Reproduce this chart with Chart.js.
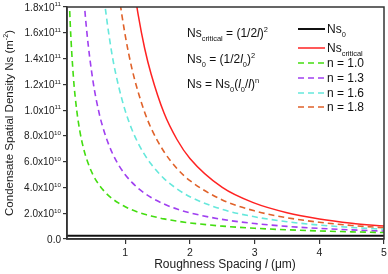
<!DOCTYPE html>
<html>
<head>
<meta charset="utf-8">
<script src="https://cdn.jsdelivr.net/npm/chart.js@4/dist/chart.umd.min.js"></script>
<style>
  body { margin: 0; background: #fff; }
  #wrap { width: 388px; height: 274px; }
</style>
</head>
<body>
<div id="wrap"><canvas id="chart" width="388" height="274"></canvas></div>
<script>
// roughness spacing l (um) and densities, in units of 1e9 m^-2
const spacing = [0.12, 0.15, 0.2, 0.25, 0.3, 0.35, 0.4, 0.5, 0.6, 0.65, 0.7, 0.8, 0.9, 1.0,
  1.1, 1.2, 1.3, 1.4, 1.6, 1.8, 2.0, 2.5, 3.0, 3.5, 4.0, 4.5, 5.0]
const ns0Spacing = [0.1, 5.0]
const ns0 = [2.5, 2.5]
const nsCritical = [null, null, null, null, null, null, null, null, null, null, null, null, null, null,
  207, 174, 148, 128, 97.7, 77.2, 62.5, 40, 27.8, 20.4, 15.6, 12.3, 10]
const n18 = [null, null, null, null, null, null, null, null, null, null, null,
  236, 191, 158, 133, 114, 98.4, 86.0, 67.7, 54.7, 45.3, 30.3, 21.8, 16.5, 13.0, 10.5, 8.7]
const n16 = [null, null, null, null, null, null, null, null,
  225, 198, 176, 142, 118, 99.5, 85.4, 74.3, 65.4, 58.1, 46.9, 38.9, 32.8, 23.0, 17.2, 13.4, 10.8, 8.97, 7.58]
const n13 = [null, null, null, null,
  239, 195, 164, 123, 96.9, 87.4, 79.4, 66.7, 57.2, 49.9, 44.1, 39.4, 35.5, 32.2, 27.1, 23.2, 20.3, 15.2, 12.0, 9.79, 8.23, 7.06, 6.16]
const n10 = [208, 167, 125, 100, 83.3, 71.4, 62.5, 50, 41.7, 38.5, 35.7, 31.3, 27.8, 25,
  22.7, 20.8, 19.2, 17.9, 15.6, 13.9, 12.5, 10, 8.33, 7.14, 6.25, 5.56, 5]
const xTicks = [1, 2, 3, 4, 5]
const yTicks = [0, 2e10, 4e10, 6e10, 8e10, 1e11, 1.2e11, 1.4e11, 1.6e11, 1.8e11]

const FONT = '"Liberation Sans", Arial, sans-serif'

function pts(xs, ys) {
  return xs.map((x, i) => ({ x: x, y: ys[i] == null ? null : ys[i] * 1e9 }))
}

function series(label, xs, ys, color, dashed, width) {
  return {
    label: label,
    data: pts(xs, ys),
    borderColor: color,
    borderWidth: width,
    borderDash: dashed ? [6, 4] : [],
    pointRadius: 0,
    cubicInterpolationMode: 'monotone',
    spanGaps: false
  }
}

// draws text made of segments, some sub/superscript or italic
function drawRich(ctx, segs, x, y, size, align) {
  let widths = segs.map(s => {
    let fs = (s.sub || s.sup) ? size * 0.62 : size
    ctx.font = (s.it ? 'italic ' : '') + fs + 'px ' + FONT
    return ctx.measureText(s.t).width
  })
  let total = widths.reduce((a, b) => a + b, 0)
  let cx = align == 'right' ? x - total : align == 'center' ? x - total / 2 : x
  ctx.textAlign = 'left'
  ctx.textBaseline = 'alphabetic'
  segs.forEach((s, i) => {
    let fs = (s.sub || s.sup) ? size * 0.62 : size
    ctx.font = (s.it ? 'italic ' : '') + fs + 'px ' + FONT
    let dy = s.sup ? -size * 0.42 : s.sub ? size * 0.3 : 0
    ctx.fillText(s.t, cx, y + dy)
    cx += widths[i]
  })
}

const extras = {
  id: 'extras',
  afterDraw(chart) {
    let ctx = chart.ctx
    let a = chart.chartArea
    let xs = chart.scales.x
    let ys = chart.scales.y
    ctx.save()
    ctx.strokeStyle = '#333'
    ctx.lineWidth = 1.5
    ctx.strokeRect(a.left, a.top, a.right - a.left, a.bottom - a.top)
    ctx.fillStyle = '#222'

    yTicks.forEach(v => {
      let py = ys.getPixelForValue(v) + 3.5
      if (v == 0) {
        drawRich(ctx, [{ t: '0.0' }], 61, py, 10, 'right')
      } else {
        let e = v >= 1e11 ? 11 : 10
        drawRich(ctx, [{ t: (v / Math.pow(10, e)).toFixed(1) + 'x10' }, { t: String(e), sup: true }], 61, py, 10, 'right')
      }
    })
    xTicks.forEach(v => {
      drawRich(ctx, [{ t: String(v) }], xs.getPixelForValue(v), 256, 10.5, 'center')
    })

    drawRich(ctx, [{ t: 'Roughness Spacing ' }, { t: 'l', it: true }, { t: ' (\u03bcm)' }], 225, 268, 12, 'center')

    ctx.save()
    ctx.translate(13, 123)
    ctx.rotate(-Math.PI / 2)
    drawRich(ctx, [{ t: 'Condensate Spatial Density Ns (m' }, { t: '-2', sup: true }, { t: ')' }], 0, 0, 11.5, 'center')
    ctx.restore()

    // formulas
    ctx.fillStyle = '#111'
    drawRich(ctx, [{ t: 'Ns' }, { t: 'critical', sub: true }, { t: ' = (1/2' }, { t: 'l', it: true }, { t: ')' }, { t: '2', sup: true }], 187, 37, 12, 'left')
    drawRich(ctx, [{ t: 'Ns' }, { t: '0', sub: true }, { t: ' = (1/2' }, { t: 'l', it: true }, { t: '0', sub: true }, { t: ')' }, { t: '2', sup: true }], 187, 63, 12, 'left')
    drawRich(ctx, [{ t: 'Ns = Ns' }, { t: '0', sub: true }, { t: '(' }, { t: 'l', it: true }, { t: '0', sub: true }, { t: '/' }, { t: 'l', it: true }, { t: ')' }, { t: 'n', sup: true }], 187, 88, 12, 'left')

    // legend
    let rows = [
      { segs: [{ t: 'Ns' }, { t: '0', sub: true }], ds: 0, y: 29 },
      { segs: [{ t: 'Ns' }, { t: 'critical', sub: true }], ds: 1, y: 48 },
      { segs: [{ t: 'n = 1.0' }], ds: 2, y: 63 },
      { segs: [{ t: 'n = 1.3' }], ds: 3, y: 78 },
      { segs: [{ t: 'n = 1.6' }], ds: 4, y: 93 },
      { segs: [{ t: 'n = 1.8' }], ds: 5, y: 107 }
    ]
    rows.forEach(r => {
      let d = chart.data.datasets[r.ds]
      ctx.beginPath()
      ctx.strokeStyle = d.borderColor
      ctx.lineWidth = d.borderWidth
      ctx.setLineDash(d.borderDash)
      ctx.moveTo(298, r.y)
      ctx.lineTo(325, r.y)
      ctx.stroke()
      ctx.setLineDash([])
      ctx.fillStyle = '#111'
      drawRich(ctx, r.segs, 327, r.y + 4, 12, 'left')
    })
    ctx.restore()
  }
}

new Chart(document.getElementById('chart').getContext('2d'), {
  type: 'line',
  data: {
    datasets: [
      series('Ns0', ns0Spacing, ns0, '#111111', false, 2),
      series('Ns critical', spacing, nsCritical, '#ff2222', false, 1.5),
      series('n = 1.0', spacing, n10, '#44dd11', true, 1.6),
      series('n = 1.3', spacing, n13, '#a040f0', true, 1.6),
      series('n = 1.6', spacing, n16, '#66e8dc', true, 1.6),
      series('n = 1.8', spacing, n18, '#e0622a', true, 1.6)
    ]
  },
  options: {
    responsive: false,
    animation: false,
    layout: { padding: { top: 7, right: 4, left: 0, bottom: 0 } },
    plugins: { legend: { display: false }, tooltip: { enabled: false } },
    scales: {
      x: {
        type: 'linear',
        min: 0.1,
        max: 5,
        afterBuildTicks: s => { s.ticks = xTicks.map(v => ({ value: v })) },
        afterFit: s => { s.height = 35 },
        ticks: { callback: () => '', font: { size: 1 } },
        grid: { drawOnChartArea: false, tickLength: 5, color: '#333', lineWidth: 1.2 },
        border: { color: '#333', width: 1.5 }
      },
      y: {
        min: 0,
        max: 1.8e11,
        afterBuildTicks: s => { s.ticks = yTicks.map(v => ({ value: v })) },
        afterFit: s => { s.width = 67 },
        ticks: { callback: () => '', font: { size: 1 } },
        grid: { drawOnChartArea: false, tickLength: 4, color: '#333', lineWidth: 1.2 },
        border: { color: '#333', width: 1.5 }
      }
    }
  },
  plugins: [extras]
})
</script>
</body>
</html>
